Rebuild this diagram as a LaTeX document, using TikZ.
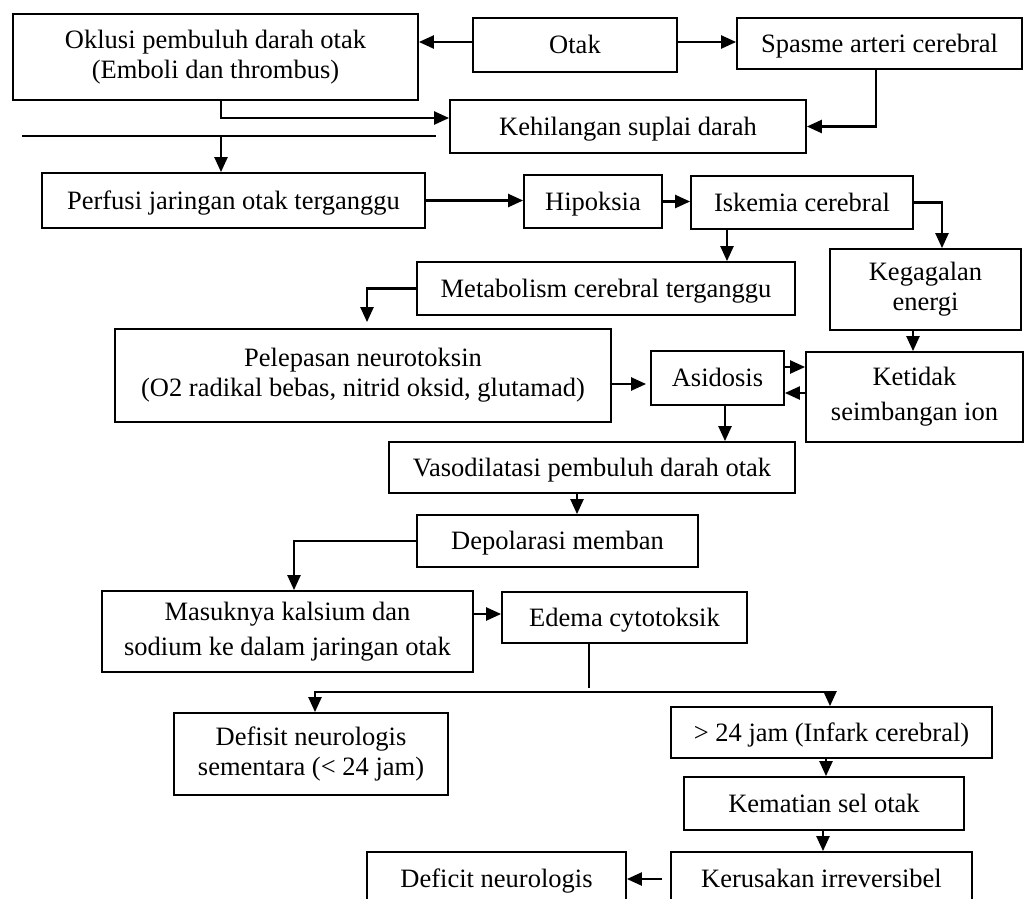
\documentclass[tikz,border=0pt]{standalone}
\usepackage{fontspec}
\setmainfont{Liberation Serif}
\usetikzlibrary{arrows.meta}
\tikzset{
	kotak/.style={draw, line width=1.8pt, inner sep=0pt, align=center, font=\fontsize{26.5}{30}\selectfont},
	satu/.style={kotak, text height=18pt, text depth=1pt},
	panah/.style={line width=2.3pt, -{Triangle[length=15pt,width=13pt]}},
	garis/.style={line width=2.2pt}
}

\begin{document}
\begin{tikzpicture}[x=1pt, y=-1pt]
		%%%%% START %%%%%
		\useasboundingbox (0,0) rectangle (1026,898);
		\clip (0,0) rectangle (1026,898);
		
		\node[kotak, minimum width=405, minimum height=86] (oklusi) at (215.5,57) {Oklusi pembuluh darah otak\\(Emboli dan thrombus)};
		\node[satu, minimum width=204, minimum height=54] (otak) at (575,45) {Otak};
		\node[satu, minimum width=285, minimum height=51] (spasme) at (879.5,43.5) {Spasme arteri cerebral};
		\node[satu, minimum width=356, minimum height=53] (kehilangan) at (628,126.5) {Kehilangan suplai darah};
		
		\node[satu, minimum width=383, minimum height=55] (perfusi) at (233.5,200.5) {Perfusi jaringan otak terganggu};
		\node[satu, minimum width=138, minimum height=53] (hipoksia) at (593,201.5) {Hipoksia};
		\node[satu, minimum width=222, minimum height=53] (iskemia) at (802,202.5) {Iskemia cerebral};
		
		\node[satu, minimum width=378, minimum height=53] (metabolisme) at (606,288.5) {Metabolism cerebral terganggu};
		\node[kotak, minimum width=191, minimum height=81] (kegagalan) at (925.5,289.5) {Kegagalan\\energi};
		
		\node[kotak, minimum width=496, minimum height=93] (pelepasan) at (363,375.5) {Pelepasan neurotoksin\\(O2 radikal bebas, nitrid oksid, glutamad)};
		\node[satu, minimum width=133, minimum height=54] (asidosis) at (717.5,378) {Asidosis};
		\node[kotak, minimum width=217, minimum height=90] (ketidak) at (914.5,397) {Ketidak\\[5pt]seimbangan ion};
		
		\node[satu, minimum width=406, minimum height=51] (vasodilatasi) at (592,467.5) {Vasodilatasi pembuluh darah otak};
		\node[satu, minimum width=281, minimum height=52] (depolarasi) at (557.5,541) {Depolarasi memban};
		
		\node[kotak, minimum width=371, minimum height=81] (masuknya) at (287.5,631.5) {Masuknya kalsium dan\\[5pt]sodium ke dalam jaringan otak};
		\node[satu, minimum width=245, minimum height=51] (edema) at (624.5,617.5) {Edema cytotoksik};
		
		\node[kotak, minimum width=274, minimum height=82] (defisit) at (311,754) {Defisit neurologis\\sementara (< 24 jam)};
		\node[satu, minimum width=321, minimum height=51] (infark) at (831.5,732.5) {> 24 jam (Infark cerebral)};
		\node[satu, minimum width=280, minimum height=53] (kematian) at (824,803.5) {Kematian sel otak};
		\node[satu, minimum width=301, minimum height=54] (kerusakan) at (821.5,879) {Kerusakan irreversibel};
		\node[satu, minimum width=259, minimum height=54] (deficit) at (496.5,879) {Deficit neurologis};
		
		\coordinate (ujung) at (22,136);
		\coordinate (turun) at (221,136);
		\coordinate (cabang) at (589,692);
		
		% baris atas
		\draw[panah] (otak.west |- 0,42) -- (oklusi.east |- 0,42);
		\draw[panah] (otak.east |- 0,42) -- (spasme.west |- 0,42);
		\draw[panah] (221,0 |- oklusi.south) |- (kehilangan.west |- 0,118);
		\draw[panah] (876,0 |- spasme.south) |- (kehilangan.east);
		\draw[garis, shorten >=13pt] (ujung) -- (kehilangan.west |- ujung);
		\draw[panah] (turun) -- (turun |- perfusi.north);
		
		\draw[panah] (perfusi.east) -- (perfusi.east -| hipoksia.west);
		\draw[panah] (hipoksia.east) -- (hipoksia.east -| iskemia.west);
		\draw[panah] (iskemia.east) -| (942,0 |- kegagalan.north);
		\draw[panah] (727,0 |- iskemia.south) -- (727,0 |- metabolisme.north);
		\draw[panah, shorten >=6pt] (metabolisme.west) -| (367,0 |- pelepasan.north);
		\draw[panah] (913,0 |- kegagalan.south) -- (913,0 |- ketidak.north);
		
		% asidosis
		\draw[panah, shorten >=4pt] (pelepasan.east |- 0,384) -- (asidosis.west |- 0,384);
		\draw[panah] (asidosis.east |- 0,367) -- (ketidak.west |- 0,367);
		\draw[panah] (ketidak.west |- 0,393) -- (asidosis.east |- 0,393);
		\draw[panah] (725,0 |- asidosis.south) -- (725,0 |- vasodilatasi.north);
		\draw[panah] (577,0 |- vasodilatasi.south) -- (577,0 |- depolarasi.north);
		\draw[panah] (depolarasi.west) -| (294,0 |- masuknya.north);
		\draw[panah] (masuknya.east |- 0,614) -- (edema.west |- 0,614);
		
		% cabang bawah
		\draw[garis, shorten >=4pt] (cabang |- edema.south) -- (cabang);
		\draw[panah] (cabang) -| (315,0 |- defisit.north);
		\draw[panah] (cabang) -| (830,0 |- infark.north);
		\draw[panah] (826,0 |- infark.south) -- (826,0 |- kematian.north);
		\draw[panah] (823,0 |- kematian.south) -- (823,0 |- kerusakan.north);
		\draw[panah, shorten <=8pt] (kerusakan.west |- 0,879) -- (deficit.east |- 0,879);
		
		%%%%% END %%%%%
	\end{tikzpicture}
\end{document}
